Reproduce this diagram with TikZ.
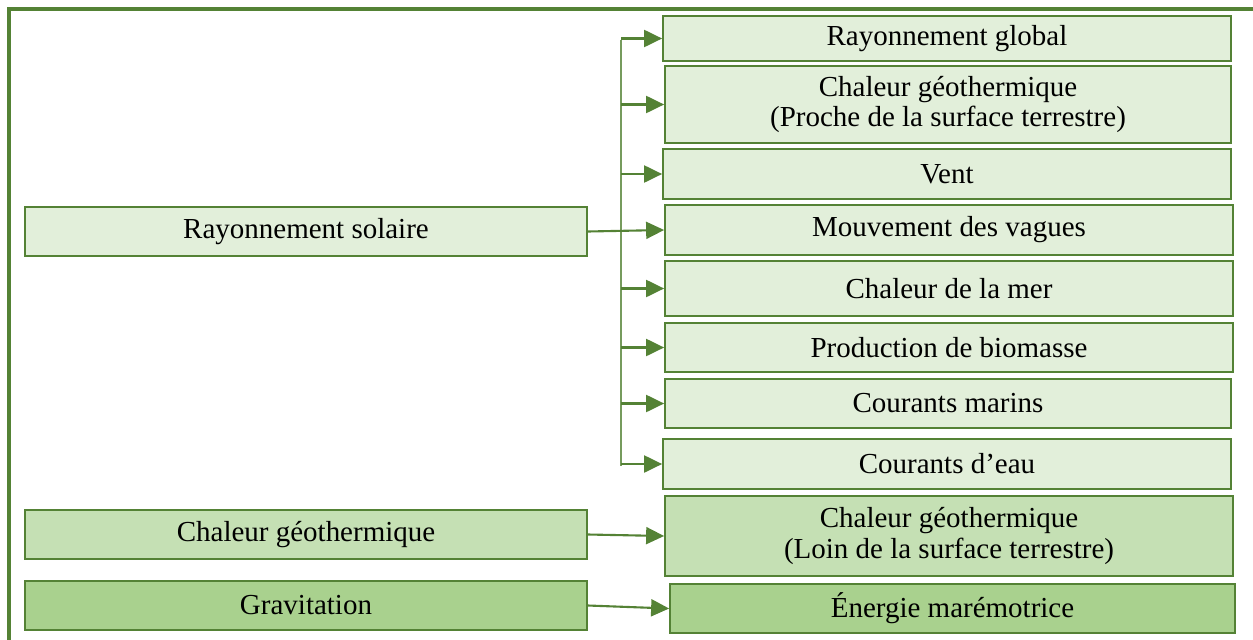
\documentclass[tikz,border=0pt]{standalone}
\usepackage{fontspec}
\setmainfont{Liberation Serif}
\usetikzlibrary{arrows.meta}
\definecolor{vert}{HTML}{548235}
\definecolor{vertclair}{HTML}{E2EFDA}
\definecolor{vertmoyen}{HTML}{C5E0B4}
\definecolor{vertfonce}{HTML}{A9D18E}
\tikzset{
  boite/.style={draw=vert, line width=1pt, fill=vertclair, inner sep=0pt, align=center, font=\fontsize{16.5}{17.5}\selectfont},
  taille/.style 2 args={minimum width=#1*0.02cm, minimum height=#2*0.02cm},
  fleche/.style={vert, line width=1.2pt, -{Triangle[length=0.36cm,width=0.34cm]}}
}
\begin{document}
\begin{tikzpicture}[x=0.02cm, y=-0.02cm]
			\useasboundingbox (0,0) rectangle (1253,639);
			\clip (0,0) rectangle (1253,639);
			\draw[vert, line width=1.8pt] (9,9) rectangle (1270,660);

			% sources
			\node[boite, taille={562}{49}] (rs) at (306,231.5) {Rayonnement solaire};
			\node[boite, fill=vertmoyen, taille={562}{49}] (cg) at (306,534.5) {Chaleur géothermique};
			\node[boite, fill=vertfonce, taille={562}{49}] (gr) at (306,605.5) {Gravitation};

			% formes d'energie
			\node[boite, taille={568}{45}] (rg) at (947,38.5) {Rayonnement global};
			\node[boite, taille={566}{77}] (cp) at (948,104.5) {Chaleur géothermique\\(Proche de la surface terrestre)};
			\node[boite, taille={568}{50}] (ve) at (947,174) {Vent};
			\node[boite, taille={568}{50}] (mv) at (949,230) {Mouvement des vagues};
			\node[boite, taille={568}{55}] (cm) at (949,288.5) {Chaleur de la mer};
			\node[boite, taille={568}{49}] (pb) at (949,347.5) {Production de biomasse};
			\node[boite, taille={566}{49}] (co) at (948,403.5) {Courants marins};
			\node[boite, taille={568}{50}] (ce) at (947,464) {Courants d’eau};
			\node[boite, fill=vertmoyen, taille={568}{80}] (cl) at (949,536) {Chaleur géothermique\\(Loin de la surface terrestre)};
			\node[boite, fill=vertfonce, taille={565}{49}] (em) at (952.5,608.5) {Énergie marémotrice};

			% accolade
			\coordinate (haut) at (621,40);
			\coordinate (bas) at (621,466);
			\draw[vert!80, line width=0.9pt] (haut) -- (bas);
			\foreach \n in {rg,cp,ve,cm,pb,co,ce}
				\draw[fleche] (haut |- \n.west) -- (\n.west);
			\draw[fleche] (rs.east) -- (mv.west);
			\draw[fleche] (cg.east) -- (cl.west);
			\draw[fleche] (gr.east) -- (em.west);

		\end{tikzpicture}
\end{document}
